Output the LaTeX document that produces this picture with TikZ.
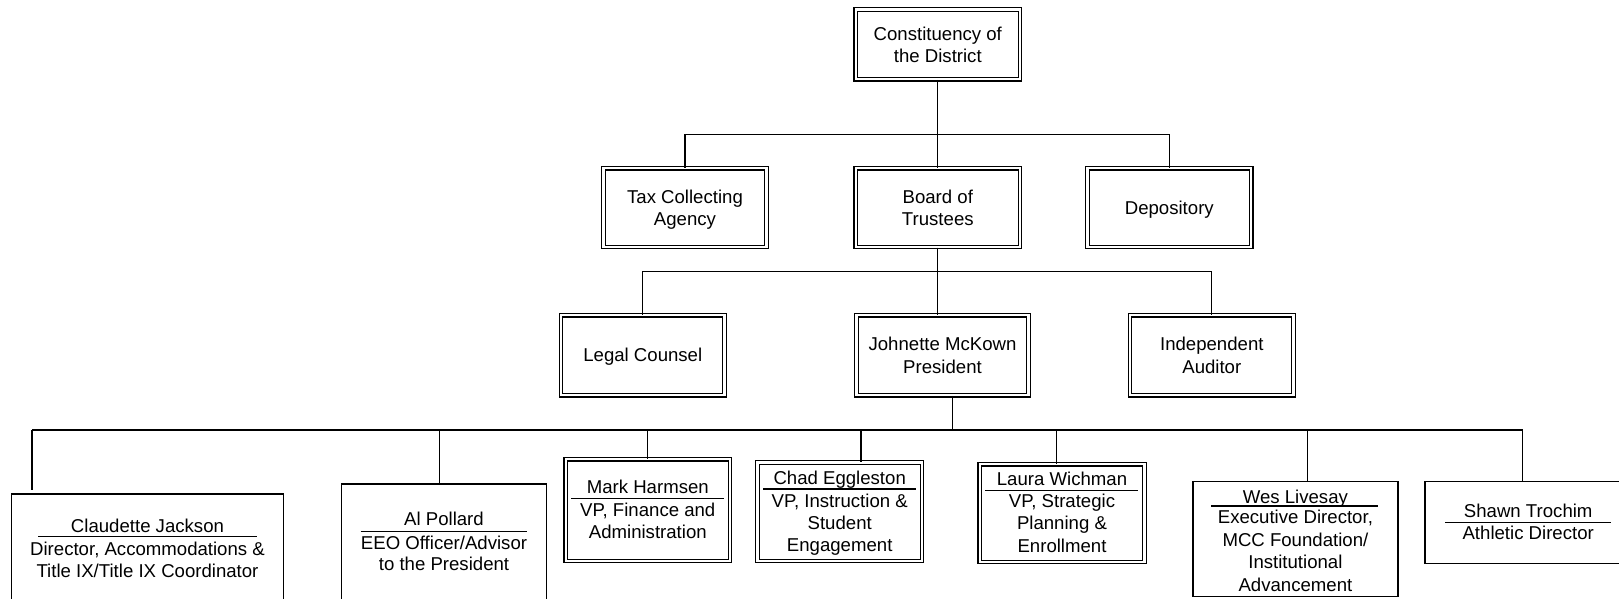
\documentclass[tikz,border=0pt]{standalone}
\usepackage{fontspec}
\setmainfont{Liberation Sans}
\newcommand\orgfont{\fontsize{18.6pt}{22.2pt}\selectfont}
\newcommand\orgline[4]{\node[txt] (#1) at (#2,#3) {#4};}
\tikzset{
  dbox/.style={draw, line width=1.2pt, double=white, double distance=2.4pt,
               inner sep=0pt, align=center, font=\orgfont, text depth=0pt},
  sbox/.style={draw, line width=1.3pt, inner sep=0pt},
  txt/.style={inner sep=0pt, font=\orgfont, anchor=base},
  link/.style={line width=1.3pt},
  rule/.style={line width=1.3pt},
}
\begin{document}
\begin{tikzpicture}[x=1pt, y=-1pt]
\useasboundingbox (0,0) rectangle (1619,599);
\clip (0,0) rectangle (1619,599);

% top of the chart
\node[dbox, minimum width=164.2pt, minimum height=69.6pt] (const) at (937.8,44.5) {Constituency of\\the District};

\node[dbox, minimum width=163.2pt, minimum height=78.8pt] (tax) at (685,207.5) {Tax Collecting\\Agency};
\node[dbox, minimum width=164.2pt, minimum height=78.8pt] (board) at (937.8,207.5) {Board of\\Trustees};
\node[dbox, minimum width=163.7pt, minimum height=78.8pt] (dep) at (1169.3,207.5) {Depository};

\node[dbox, minimum width=163.6pt, minimum height=79.9pt] (legal) at (642.8,355.2) {Legal Counsel};
\node[dbox, minimum width=172pt, minimum height=79.9pt] (pres) at (942.5,355.2) {Johnette McKown\\President};
\node[dbox, minimum width=163.7pt, minimum height=79.9pt] (aud) at (1211.8,355.2) {Independent\\Auditor};

% bottom row boxes
\node[sbox, minimum width=271.7pt, minimum height=156pt] (claud) at (147.5,572) {};
\node[sbox, minimum width=205.3pt, minimum height=166pt] (al) at (444,567) {};
\node[dbox, minimum width=164.2pt, minimum height=101.8pt] (mark) at (647.8,510) {};
\node[dbox, minimum width=164.5pt, minimum height=98.5pt] (chad) at (839.65,511.65) {};
\node[dbox, minimum width=164.6pt, minimum height=97.8pt] (laura) at (1062,513) {};
\node[sbox, minimum width=204.9pt, minimum height=114.7pt] (wes) at (1295.4,539) {};
\node[sbox, minimum width=206.4pt, minimum height=82pt] (shawn) at (1528.2,522.65) {};

% texts of the bottom row
\orgline{claud1}{147.5}{532.5}{Claudette Jackson}
\orgline{claud2}{147.5}{555.5}{Director, Accommodations \&}
\orgline{claud3}{147.5}{577.2}{Title IX/Title IX Coordinator}
\draw[rule] (38,536.7) -- (257,536.7);

\orgline{al1}{444}{525.8}{Al Pollard}
\orgline{al2}{444}{549.2}{EEO Officer/Advisor}
\orgline{al3}{444}{570.8}{to the President}
\draw[rule] (360.7,531.7) -- (526.7,531.7);

\orgline{mark1}{647.8}{493.2}{Mark Harmsen}
\orgline{mark2}{647.8}{516.5}{VP, Finance and}
\orgline{mark3}{647.8}{538.2}{Administration}
\draw[rule] (571,498.7) -- (724.3,498.7);

\orgline{chad1}{839.7}{484.8}{Chad Eggleston}
\orgline{chad2}{839.7}{507.2}{VP, Instruction \&}
\orgline{chad3}{839.7}{529.2}{Student}
\orgline{chad4}{839.7}{551.5}{Engagement}
\draw[rule] (763.3,489) -- (915.7,489);

\orgline{laura1}{1062}{485.5}{Laura Wichman}
\orgline{laura2}{1062}{507.5}{VP, Strategic}
\orgline{laura3}{1062}{529.2}{Planning \&}
\orgline{laura4}{1062}{552.2}{Enrollment}
\draw[rule] (985,490.3) -- (1138.3,490.3);

\orgline{wes1}{1295.4}{503.2}{Wes Livesay}
\orgline{wes2}{1295.4}{523.8}{Executive Director,}
\orgline{wes3}{1295.4}{546.5}{MCC Foundation/}
\orgline{wes4}{1295.4}{568.8}{Institutional}
\orgline{wes5}{1295.4}{591.5}{Advancement}
\draw[rule] (1211,506) -- (1378,506);

\orgline{shawn1}{1528.2}{517.2}{Shawn Trochim}
\orgline{shawn2}{1528.2}{539.8}{Athletic Director}
\draw[rule] (1445,522.7) -- (1611,522.7);

% connectors
\coordinate (j1) at (937.8,134.3);
\coordinate (j2) at (937.8,271.5);
\coordinate (j3) at (952.5,430);
\coordinate (busL) at (32,430);
\coordinate (busR) at (1522.7,430);
\coordinate (dAl) at (439.3,430);
\coordinate (dChad) at (861,430);
\coordinate (dLaura) at (1056.7,430);
\coordinate (dWes) at (1307.7,430);

\draw[link] (const.south) -- (board.north);
\draw[link] (tax.north) |- (j1) -| (dep.north);

\draw[link] (board.south) -- (board.south |- pres.north);
\draw[link] (legal.north) |- (j2) -| (aud.north);

\draw[link] (j3 |- pres.south) -- (j3);
\draw[link] (busL) -- (busR);
\draw[link, shorten >=3pt] (busL) -- (busL |- claud.north);
\draw[link] (dAl) -- (dAl |- al.north);
\draw[link] (mark.north |- busL) -- (mark.north);
\draw[link] (dChad) -- (dChad |- chad.north);
\draw[link] (dLaura) -- (dLaura |- laura.north);
\draw[link] (dWes) -- (dWes |- wes.north);
\draw[link] (busR) -- (busR |- shawn.north);
\end{tikzpicture}
\end{document}
